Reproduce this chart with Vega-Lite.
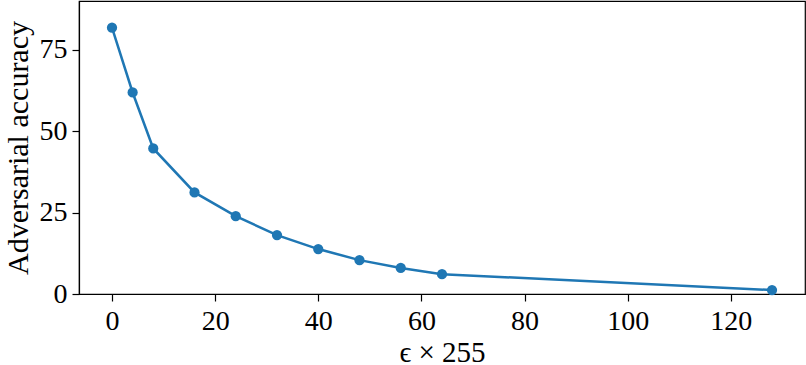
{
  "$schema": "https://vega.github.io/schema/vega-lite/v6.json",
  "autosize": {"type": "none"},
  "padding": {"left": 79, "top": 1, "right": 1, "bottom": 71},
  "width": 726,
  "height": 293,
  "config": {
    "view": {"stroke": "#000000", "strokeWidth": 1.2},
    "font": "Liberation Serif",
    "axis": {
      "grid": false,
      "domainColor": "#000000",
      "domainWidth": 1.2,
      "tickColor": "#000000",
      "tickWidth": 1.2,
      "tickSize": 7,
      "labelFont": "Liberation Serif",
      "labelFontSize": 28,
      "labelColor": "#000000",
      "titleFont": "Liberation Serif",
      "titleFontWeight": "normal",
      "titleColor": "#000000"
    }
  },
  "data": {
    "values": [
      {"eps": 0, "acc": 81.8},
      {"eps": 4, "acc": 61.9},
      {"eps": 8, "acc": 44.7},
      {"eps": 16, "acc": 31.2},
      {"eps": 24, "acc": 23.9},
      {"eps": 32, "acc": 18.1},
      {"eps": 40, "acc": 13.8},
      {"eps": 48, "acc": 10.4},
      {"eps": 56, "acc": 8.0},
      {"eps": 64, "acc": 6.1},
      {"eps": 128, "acc": 1.2}
    ]
  },
  "encoding": {
    "x": {
      "field": "eps",
      "type": "quantitative",
      "scale": {"domain": [-6.4, 134.4], "nice": false, "zero": false},
      "axis": {"values": [0, 20, 40, 60, 80, 100, 120], "title": "ϵ × 255", "titleFontSize": 29, "labelPadding": 6, "titlePadding": 3, "labelFlush": false}
    },
    "y": {
      "field": "acc",
      "type": "quantitative",
      "scale": {"domain": [0, 90], "nice": false},
      "axis": {"values": [0, 25, 50, 75], "title": "Adversarial accuracy", "titleFontSize": 30, "labelPadding": 5, "titlePadding": 6, "labelFlush": false}
    }
  },
  "layer": [
    {"mark": {"type": "line", "color": "#1f77b4", "strokeWidth": 2.5}},
    {"mark": {"type": "circle", "color": "#1f77b4", "opacity": 1, "size": 105}}
  ]
}
